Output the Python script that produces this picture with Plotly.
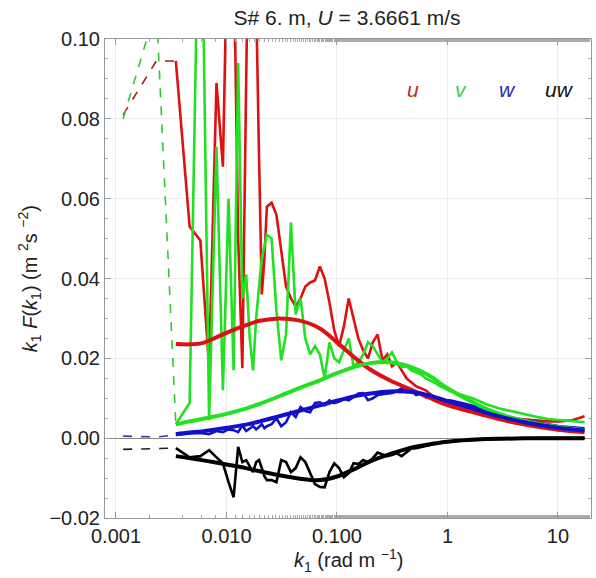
import plotly.graph_objects as go

# ---------------- data ----------------
k_raw = [0.00116, 0.00232, 0.00348, 0.00464, 0.0058, 0.00696, 0.00812, 0.00928, 0.01044, 0.0116,
         0.01276, 0.01392, 0.01508, 0.01624, 0.0174, 0.01856, 0.01972, 0.02088, 0.02204, 0.0232,
         0.0256, 0.0283, 0.0313, 0.0346, 0.0383, 0.0423, 0.0468, 0.0517, 0.0572, 0.0632,
         0.0700, 0.0773, 0.0855, 0.0945, 0.1045, 0.1155, 0.1277, 0.1412, 0.156, 0.1726,
         0.1908, 0.211, 0.233, 0.258, 0.285, 0.315, 0.348, 0.385, 0.426, 0.471,
         0.52, 0.575, 0.636, 0.703, 0.777, 0.859, 0.95, 1.05,
         1.35, 1.75, 2.25, 2.9, 3.75, 4.85, 6.25, 8.1, 10.4, 13.5, 17.4]

u_raw = [0.081, 0.0945, 0.0945, 0.053, 0.0495, 0.018, 0.089, 0.068, 0.14, 0.125,
         0.05, 0.0175, 0.09, 0.15, 0.14, 0.11, 0.07, 0.036, 0.045, 0.058,
         0.059, 0.056, 0.047, 0.038, 0.035, 0.033, 0.035, 0.038, 0.039, 0.0395,
         0.043, 0.040, 0.034, 0.027, 0.023, 0.028, 0.035, 0.030, 0.025, 0.022,
         0.020, 0.024, 0.026, 0.0195, 0.021, 0.018, 0.019, 0.017, 0.015, 0.014,
         0.013, 0.0125, 0.012, 0.011, 0.010, 0.0095, 0.009, 0.0085,
         0.0075, 0.0068, 0.006, 0.0055, 0.005, 0.0047, 0.0044, 0.0042, 0.0042, 0.0045, 0.0055]

v_raw = [0.080, 0.108, 0.0035, 0.0088, 0.16, 0.0045, 0.073, 0.012, 0.06, 0.017,
         0.094, 0.035, 0.041, 0.025, 0.017, 0.03, 0.038, 0.045, 0.048, 0.051,
         0.05, 0.032, 0.0195, 0.026, 0.054, 0.031, 0.035, 0.025, 0.021, 0.023,
         0.021, 0.015, 0.024, 0.020, 0.019, 0.022, 0.025, 0.018, 0.019, 0.021,
         0.024, 0.023, 0.021, 0.019, 0.020, 0.0215, 0.019, 0.0178, 0.018, 0.017,
         0.0165, 0.016, 0.015, 0.0145, 0.0138, 0.013, 0.0125, 0.0118,
         0.0108, 0.0098, 0.0085, 0.0075, 0.0068, 0.006, 0.0054, 0.0048, 0.0045, 0.0043, 0.004]

w_raw = [0.0005, 0.0003, 0.0008, 0.0012, 0.0013, 0.0010, 0.0018, 0.0015, 0.0022, 0.0020,
         0.0015, 0.0032, 0.0018, 0.0025, 0.0030, 0.0022, 0.0028, 0.0035, 0.0025, 0.0030,
         0.0035, 0.0050, 0.0030, 0.0040, 0.0065, 0.0053, 0.0078, 0.0068, 0.0065, 0.0088,
         0.0090, 0.0083, 0.0095, 0.0088, 0.0092, 0.0098, 0.0095, 0.0103, 0.0112, 0.0113,
         0.0095, 0.0100, 0.0108, 0.0110, 0.0112, 0.0113, 0.0118, 0.0125, 0.0115, 0.0120,
         0.0108, 0.0112, 0.0102, 0.0105, 0.0098, 0.0098, 0.0094, 0.0095,
         0.0088, 0.0080, 0.0068, 0.0060, 0.0052, 0.0046, 0.0040, 0.0035, 0.0030, 0.0027, 0.0025]

uw_raw = [-0.0028, -0.0025, -0.0025, -0.0048, -0.0045, -0.0030, -0.0048, -0.0063, -0.0110, -0.0148,
          -0.0022, -0.0060, -0.0055, -0.0070, -0.0085, -0.0060, -0.0055, -0.0075, -0.0095, -0.0105,
          -0.0105, -0.0110, -0.0055, -0.0060, -0.0085, -0.0075, -0.0048, -0.0060, -0.0090, -0.0115,
          -0.0122, -0.0123, -0.0085, -0.0063, -0.0075, -0.0098, -0.0088, -0.0063, -0.0065, -0.0055,
          -0.0060, -0.0050, -0.0036, -0.0040, -0.0045, -0.0042, -0.0038, -0.0045, -0.0035, -0.0026,
          -0.0025, -0.0022, -0.0019, -0.0016, -0.0014, -0.0012, -0.0010, -0.0009,
          -0.0006, -0.0004, -0.0003, -0.0002, -0.0001, -0.0001, 0.0, 0.0, 0.0, 0.0, 0.0]

k_model = [0.00348, 0.0046, 0.006, 0.008, 0.01, 0.015, 0.02, 0.03, 0.045, 0.07,
           0.1, 0.15, 0.2, 0.3, 0.5, 0.7, 1.0, 2.0, 3.0, 5.0, 10.0, 17.4]

u_model = [0.0236, 0.0235, 0.0238, 0.0252, 0.0264, 0.0283, 0.0294, 0.0300, 0.0295, 0.0275,
           0.0240, 0.0198, 0.0172, 0.0145, 0.0118, 0.0100, 0.0083, 0.0060, 0.0047, 0.0034, 0.0021, 0.0015]
v_model = [0.0035, 0.0042, 0.0048, 0.0055, 0.0061, 0.0074, 0.0086, 0.0105, 0.0125, 0.0145,
           0.0163, 0.0180, 0.0188, 0.0190, 0.0175, 0.0155, 0.0125, 0.0080, 0.0060, 0.0043, 0.0028, 0.0020]
w_model = [0.0010, 0.0014, 0.0017, 0.0022, 0.0026, 0.0034, 0.0042, 0.0055, 0.0068, 0.0082,
           0.0094, 0.0106, 0.0112, 0.0117, 0.0115, 0.0106, 0.0093, 0.0068, 0.0054, 0.0040, 0.0026, 0.0019]
uw_model = [-0.0045, -0.0050, -0.0055, -0.0061, -0.0066, -0.0075, -0.0083, -0.0093, -0.0101, -0.0105,
            -0.0096, -0.0075, -0.0058, -0.0040, -0.0022, -0.0015, -0.0009, -0.0003, -0.00015, -0.00005, 0.0, 0.0]

labels = ["u", "v", "w", "uw"]
x_ticks = [0.001, 0.01, 0.1, 1, 10]
x_ticktext = ["0.001", "0.010", "0.100", "1", "10"]
y_ticks = [-0.02, 0.0, 0.02, 0.04, 0.06, 0.08, 0.10]
y_ticktext = ["\u22120.02", "0.00", "0.02", "0.04", "0.06", "0.08", "0.10"]

# ---------------- styles ----------------
col_raw = ["#dd1111", "#22e022", "#1111cc", "#000000"]
col_dash = ["#a52020", "#33c833", "#3a3aaa", "#222222"]
col_lbl = ["#c8282d", "#44cc44", "#2a2aa8", "#111111"]
raws = [u_raw, v_raw, w_raw, uw_raw]
models = [u_model, v_model, w_model, uw_model]

fig = go.Figure()
ND = 3  # number of leading (dashed) points

# dashed low-k portions
for i in range(4):
    fig.add_trace(go.Scatter(x=k_raw[:ND], y=raws[i][:ND], mode="lines",
                             line=dict(color=col_dash[i], width=1.6, dash="dash"),
                             showlegend=False, hoverinfo="skip"))
# raw spectra
for i in range(4):
    fig.add_trace(go.Scatter(x=k_raw[ND - 1:], y=raws[i][ND - 1:], mode="lines",
                             line=dict(color=col_raw[i], width=2.6),
                             showlegend=False, hoverinfo="skip"))
# model curves
for i in range(4):
    fig.add_trace(go.Scatter(x=k_model, y=models[i], mode="lines",
                             line=dict(color=col_raw[i], width=4, shape="spline", smoothing=1.0),
                             showlegend=False, hoverinfo="skip"))

font_main = "Liberation Sans, Arial, sans-serif"

# legend-like labels
lbl_x = [0.634, 0.733, 0.829, 0.936]
for i in range(4):
    fig.add_annotation(x=lbl_x[i], y=0.894, xref="paper", yref="paper",
                       text="<i>%s</i>" % labels[i], showarrow=False,
                       font=dict(size=21, color=col_lbl[i], family=font_main),
                       xanchor="center", yanchor="middle")

# axis titles
fig.add_annotation(x=-0.155, y=0.5, xref="paper", yref="paper", textangle=-90,
                   text="<i>k</i><sub>1</sub> <i>F</i>(<i>k</i><sub>1</sub>) (m <sup>2</sup>s <sup>\u22122</sup>)",
                   showarrow=False, font=dict(size=20, color="#222", family=font_main),
                   xanchor="center", yanchor="middle")
fig.add_annotation(x=0.5, y=-0.088, xref="paper", yref="paper",
                   text="<i>k</i><sub>1</sub> (rad m <sup>\u22121</sup>)",
                   showarrow=False, font=dict(size=20, color="#222", family=font_main),
                   xanchor="center", yanchor="middle")

fig.update_layout(
    width=596, height=578,
    margin=dict(l=105, r=5, t=39, b=60),
    paper_bgcolor="white", plot_bgcolor="white",
    font=dict(family=font_main, size=20, color="#222"),
    title=dict(text="S# 6. m, <i>U</i> = 3.6661 m/s", x=0.498, xref="paper",
               y=1 - 18 / 578, yref="container", xanchor="center", yanchor="middle",
               font=dict(size=21, color="#222", family=font_main)),
    showlegend=False,
)

fig.update_xaxes(type="log", range=[-3.0995, 1.299],
                 tickvals=x_ticks, ticktext=x_ticktext,
                 ticks="inside", ticklen=6, tickcolor="#999", tickwidth=1,
                 showline=True, linecolor="#999", linewidth=1, mirror="ticks",
                 showgrid=True, gridcolor="#ebebeb", gridwidth=1,
                 minor=dict(ticks="inside", ticklen=3, tickcolor="#aaa", showgrid=False),
                 zeroline=False, tickfont=dict(size=20))
fig.update_yaxes(range=[-0.02, 0.10],
                 tickvals=y_ticks, ticktext=y_ticktext,
                 ticks="inside", ticklen=6, tickcolor="#999", tickwidth=1,
                 showline=True, linecolor="#999", linewidth=1, mirror="ticks",
                 showgrid=True, gridcolor="#ebebeb", gridwidth=1,
                 minor=dict(ticks="inside", ticklen=3, tickcolor="#aaa", dtick=0.005, showgrid=False),
                 zeroline=True, zerolinecolor="#8a8a8a", zerolinewidth=1.2,
                 tickfont=dict(size=20))

fig.write_html("out.html")
